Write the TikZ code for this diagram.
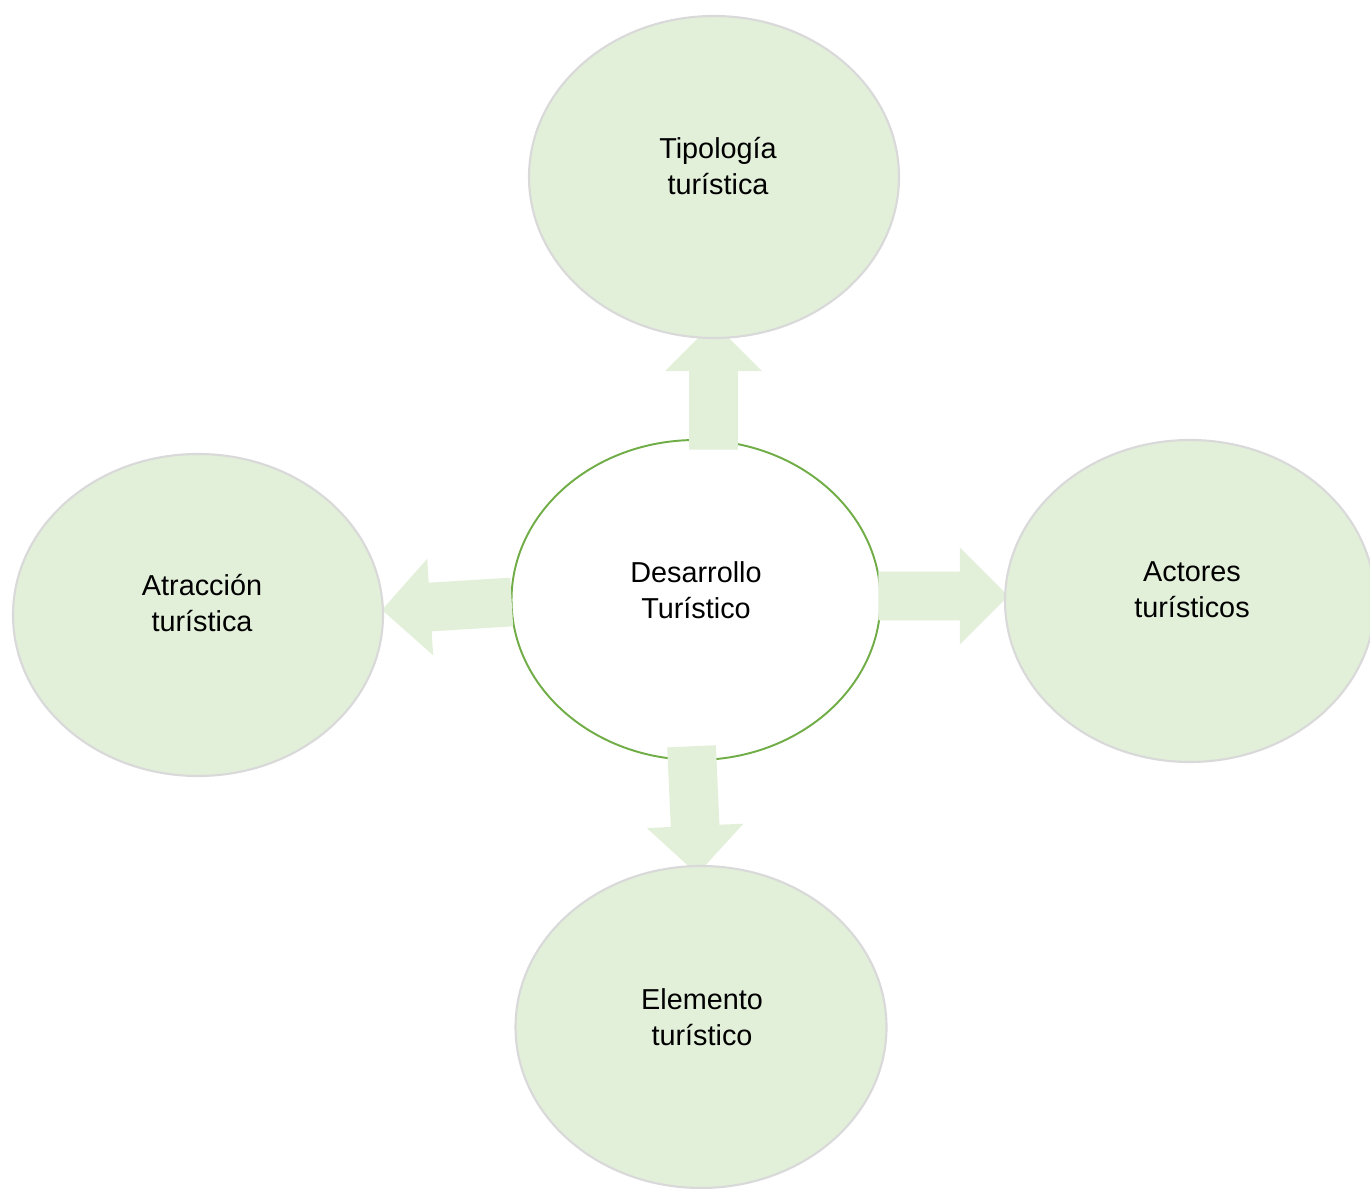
\documentclass[tikz,border=0pt]{standalone}
\usepackage{fontspec}
\setmainfont{Liberation Sans}
\usetikzlibrary{shapes.geometric, shapes.arrows, calc}
\definecolor{verdeclaro}{HTML}{E2EFD9}
\definecolor{verdeborde}{HTML}{70AD47}
\definecolor{grisborde}{HTML}{D9D9D9}

\begin{document}
\begin{tikzpicture}[
    burbuja/.style={ellipse, draw=grisborde, line width=1.2pt, fill=verdeclaro,
        minimum width=7.4cm, minimum height=6.44cm, inner sep=0pt},
    centrobox/.style={ellipse, draw=verdeborde, line width=1.1pt, fill=white,
        minimum width=7.38cm, minimum height=6.4cm, inner sep=0pt},
    texto/.style={align=center, inner sep=0pt, font=\fontsize{16.4}{20.4}\selectfont},
    flecha/.style={single arrow, fill=verdeclaro, draw=none, anchor=tail,
        inner xsep=0pt, inner ysep=0.48cm, single arrow head extend=0.48cm,
        single arrow tip angle=90, single arrow head indent=0pt}
  ]
  \useasboundingbox (0,0) rectangle (27.4,23.76);
  \clip (0,0) rectangle (27.4,23.76);

  \node[centrobox] (centro) at (13.92,11.76) {};
  \node[texto] (centro-txt) at ([yshift=0.2cm]centro.center) {Desarrollo\\Turístico};

  \node[flecha, rotate=90, minimum height=2.54cm] (flecha-n) at ($(centro.north)+(0.35,-0.22)$) {};
  \node[flecha, rotate=0, minimum height=2.6cm] (flecha-e) at ($(centro.east)+(-0.07,0.08)$) {};
  \node[flecha, rotate=183.5, minimum height=2.6cm] (flecha-o) at ($(centro.west)+(0.03,-0.04)$) {};
  \node[flecha, rotate=-87.4, minimum height=2.56cm] (flecha-s) at ($(centro.south)+(-0.09,0.3)$) {};

  \node[burbuja] (tipo) at (14.28,20.22) {};
  \node[texto] (tipo-txt) at ([xshift=0.08cm,yshift=0.22cm]tipo.center) {Tipología\\turística};

  \node[burbuja] (actores) at (23.8,11.74) {};
  \node[texto] (actores-txt) at ([xshift=0.04cm,yshift=0.22cm]actores.center) {Actores\\turísticos};

  \node[burbuja] (atraccion) at (3.96,11.46) {};
  \node[texto] (atraccion-txt) at ([xshift=0.08cm,yshift=0.24cm]atraccion.center) {Atracción\\turística};

  \node[burbuja, minimum width=7.42cm] (elemento) at (14.02,3.22) {};
  \node[texto] (elemento-txt) at ([xshift=0.02cm,yshift=0.2cm]elemento.center) {Elemento\\turístico};
\end{tikzpicture}
\end{document}
